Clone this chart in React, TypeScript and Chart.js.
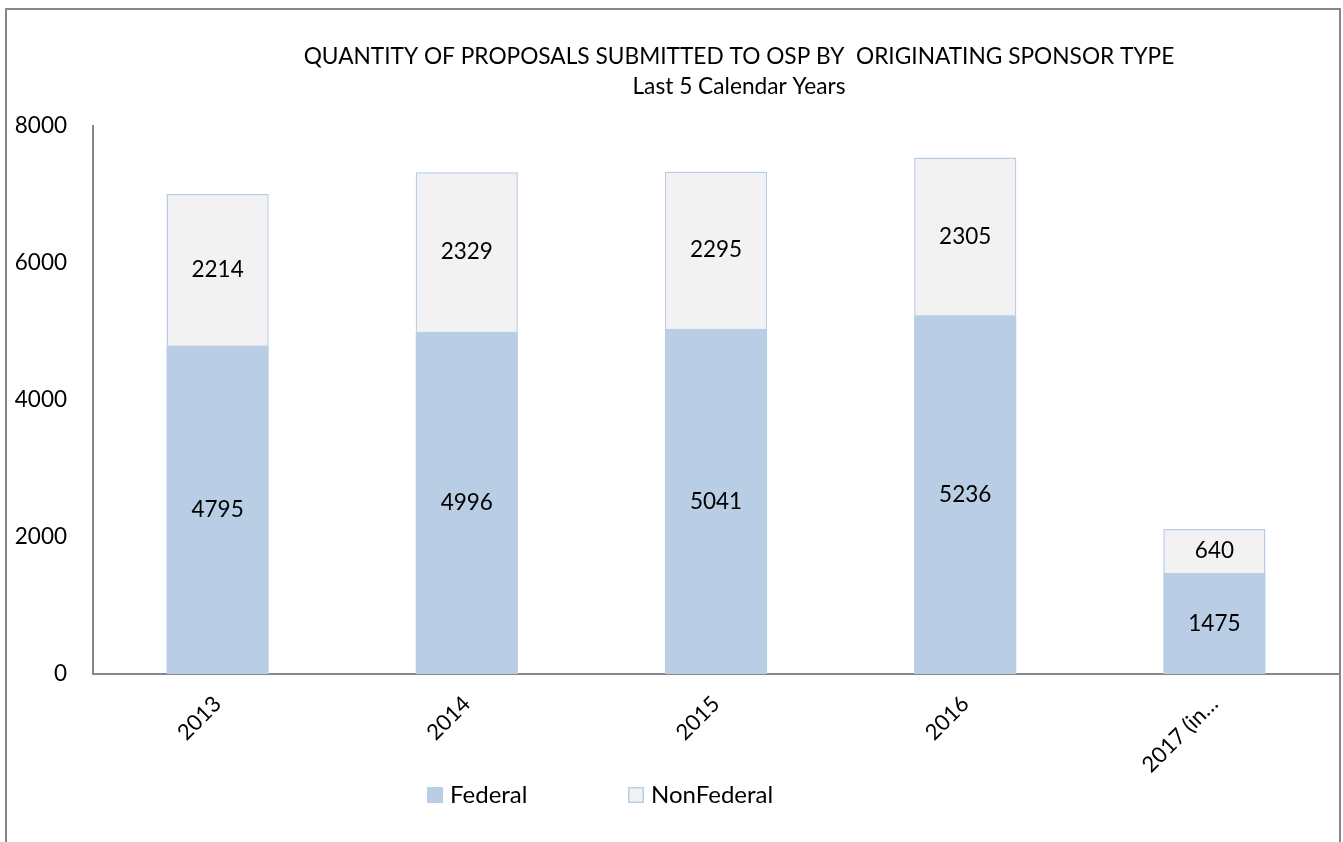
import React, { useEffect, useRef } from "react";
import { Chart, registerables } from "chart.js";

Chart.register(...registerables);

const categories = ["2013", "2014", "2015", "2016", "2017 (in…"];
const federal = [4795, 4996, 5041, 5236, 1475];
const nonFederal = [2214, 2329, 2295, 2305, 640];
const yTicks = [0, 2000, 4000, 6000, 8000];
const titleLines = [
  "QUANTITY OF PROPOSALS SUBMITTED TO OSP BY  ORIGINATING SPONSOR TYPE",
  "Last 5 Calendar Years",
];

const FONT = "Lato, 'Open Sans', sans-serif";
const FED_COLOR = "#B9CDE5";
const NONFED_COLOR = "#F2F2F2";
const AXIS_COLOR = "#868686";

const labelsPlugin = {
  id: "segLabels",
  afterDatasetsDraw(chart: any) {
    const ctx = chart.ctx;
    ctx.save();
    ctx.font = `22.5px ${FONT}`;
    ctx.fillStyle = "#000";
    ctx.textAlign = "center";
    ctx.textBaseline = "middle";
    chart.data.datasets.forEach((ds: any, di: number) => {
      const meta = chart.getDatasetMeta(di);
      meta.data.forEach((bar: any, i: number) => {
        const v = ds.data[i];
        const cy = (bar.y + bar.base) / 2;
        ctx.fillText(String(v), bar.x, cy);
      });
    });
    ctx.restore();
  },
};

const titlePlugin = {
  id: "customTitle",
  afterDraw(chart: any) {
    const ctx = chart.ctx;
    ctx.save();
    ctx.font = `22.7px ${FONT}`;
    ctx.fillStyle = "#000";
    ctx.textAlign = "center";
    ctx.textBaseline = "middle";
    const cx = 732;
    ctx.fillText(titleLines[0], cx, 47);
    ctx.fillText(titleLines[1], cx, 77);
    ctx.restore();
  },
};

const legendPlugin = {
  id: "customLegend",
  afterDraw(chart: any) {
    const ctx = chart.ctx;
    ctx.save();
    ctx.font = `24px ${FONT}`;
    ctx.textBaseline = "middle";
    ctx.textAlign = "left";
    const xs = [420, 621];
    const cy = 785;
    chart.data.datasets.forEach((ds: any, i: number) => {
      const x = xs[i];
      ctx.fillStyle = ds.backgroundColor;
      ctx.fillRect(x, cy - 8, 16, 16);
      if (i === 1) {
        ctx.strokeStyle = FED_COLOR;
        ctx.lineWidth = 1.5;
        ctx.strokeRect(x + 0.75, cy - 7.25, 14.5, 14.5);
      }
      ctx.fillStyle = "#000";
      ctx.fillText(ds.label, x + 23, cy);
    });
    ctx.restore();
  },
};

export default function App() {
  const ref = useRef<HTMLCanvasElement>(null);
  useEffect(() => {
    if (!ref.current) return;
    const chart = new Chart(ref.current, {
      type: "bar",
      data: {
        labels: categories,
        datasets: [
          {
            label: "Federal",
            data: federal,
            backgroundColor: FED_COLOR,
            borderColor: FED_COLOR,
            borderWidth: 0,
            barPercentage: 0.41,
            categoryPercentage: 1,
          },
          {
            label: "NonFederal",
            data: nonFederal,
            backgroundColor: NONFED_COLOR,
            borderColor: FED_COLOR,
            borderWidth: 1.5,
            barPercentage: 0.41,
            categoryPercentage: 1,
          },
        ],
      },
      options: {
        responsive: false,
        animation: false,
        layout: { padding: { top: 116, left: 0, right: 0, bottom: 0 } },
        plugins: {
          legend: { display: false },
          title: { display: false },
          tooltip: { enabled: false },
        },
        scales: {
          x: {
            stacked: true,
            grid: { display: false, drawTicks: false },
            border: { display: true, color: AXIS_COLOR, width: 2 },
            ticks: {
              color: "#000",
              font: { family: FONT, size: 22 },
              minRotation: 45,
              maxRotation: 45,
              padding: 17,
              autoSkip: false,
            },
            afterFit(scale: any) {
              scale.height = 168;
            },
          },
          y: {
            stacked: true,
            min: 0,
            max: 8000,
            grid: { display: false, drawTicks: false },
            border: { display: true, color: AXIS_COLOR, width: 2 },
            afterBuildTicks(scale: any) {
              scale.ticks = yTicks.map((v) => ({ value: v }));
            },
            ticks: {
              color: "#000",
              font: { family: FONT, size: 22.5 },
              padding: 26,
              callback: (v: any) => String(v),
            },
            afterFit(scale: any) {
              scale.width = 86;
            },
          },
        },
      },
      plugins: [labelsPlugin, titlePlugin, legendPlugin],
    });
    return () => chart.destroy();
  }, []);

  return (
    <div style={{ position: "fixed", inset: 0, overflow: "hidden", background: "#fff" }}>
      <div
        style={{
          position: "absolute",
          left: 5,
          top: 8,
          width: 1332,
          height: 900,
          border: `2px solid ${AXIS_COLOR}`,
          background: "#fff",
        }}
      >
        <canvas ref={ref} width={1332} height={832} style={{ display: "block" }} />
      </div>
    </div>
  );
}
